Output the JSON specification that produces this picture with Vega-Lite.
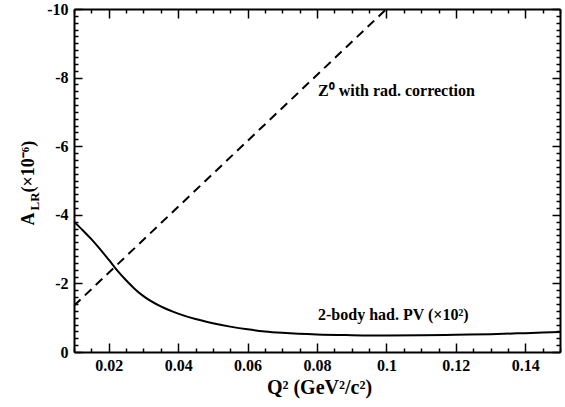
{
  "$schema": "https://vega.github.io/schema/vega-lite/v6.json",
  "width": 486,
  "height": 343,
  "autosize": "none",
  "padding": {"left": 74, "top": 9, "right": 5, "bottom": 55},
  "background": "white",
  "config": {
    "view": {"stroke": null},
    "font": "Liberation Serif",
    "axis": {
      "domainColor": "black",
      "domainWidth": 2,
      "tickColor": "black",
      "tickWidth": 1.5,
      "labelFont": "Liberation Serif",
      "labelFontSize": 16,
      "labelFontWeight": "bold",
      "labelColor": "black",
      "titleFont": "Liberation Serif",
      "titleFontWeight": "bold",
      "titleColor": "black",
      "grid": false,
      "labelFlush": false,
      "labelOverlap": false,
      "labelBound": false
    }
  },
  "datasets": {
    "curve": [
      {"q": 0.010, "a": -3.80},
      {"q": 0.0125, "a": -3.55},
      {"q": 0.015, "a": -3.29},
      {"q": 0.0175, "a": -3.00},
      {"q": 0.020, "a": -2.69},
      {"q": 0.0225, "a": -2.37},
      {"q": 0.025, "a": -2.09},
      {"q": 0.0275, "a": -1.84},
      {"q": 0.030, "a": -1.63},
      {"q": 0.035, "a": -1.33},
      {"q": 0.040, "a": -1.12},
      {"q": 0.045, "a": -0.96},
      {"q": 0.050, "a": -0.84},
      {"q": 0.055, "a": -0.74},
      {"q": 0.060, "a": -0.66},
      {"q": 0.065, "a": -0.60},
      {"q": 0.070, "a": -0.56},
      {"q": 0.080, "a": -0.51},
      {"q": 0.090, "a": -0.49},
      {"q": 0.100, "a": -0.48},
      {"q": 0.110, "a": -0.485},
      {"q": 0.120, "a": -0.50},
      {"q": 0.130, "a": -0.52},
      {"q": 0.140, "a": -0.55},
      {"q": 0.150, "a": -0.58}
    ],
    "zline": [
      {"q": 0.010, "a": -1.35},
      {"q": 0.100, "a": -10.0}
    ],
    "notes": [
      {"q": 0.0803, "a": -7.46, "label": "Z⁰ with rad. correction", "kind": "z"},
      {"q": 0.0803, "a": -0.93, "label": "2-body had. PV (×10²)", "kind": "pv"}
    ]
  },
  "layer": [
    {
      "data": {"name": "curve"},
      "mark": {"type": "line", "color": "black", "strokeWidth": 2, "interpolate": "monotone", "clip": true},
      "encoding": {
        "x": {
          "field": "q", "type": "quantitative",
          "scale": {"domain": [0.01, 0.15], "nice": false, "zero": false},
          "axis": {
            "orient": "bottom",
            "values": [0.01, 0.015, 0.02, 0.025, 0.03, 0.035, 0.04, 0.045, 0.05, 0.055, 0.06, 0.065, 0.07, 0.075, 0.08, 0.085, 0.09, 0.095, 0.1, 0.105, 0.11, 0.115, 0.12, 0.125, 0.13, 0.135, 0.14, 0.145, 0.15],
            "labelExpr": "abs(round(datum.value*1000) % 20) == 0 ? '' + datum.value : ''",
            "tickSize": {"condition": {"test": "abs(round(datum.value*1000) % 20) == 0", "value": -9}, "value": -4},
            "labelPadding": 14,
            "title": "Q² (GeV²/c²)",
            "titleFontSize": 20,
            "titleX": 245,
            "titleY": 41,
            "titleAlign": "center",
            "titleBaseline": "alphabetic"
          }
        },
        "y": {
          "field": "a", "type": "quantitative",
          "scale": {"domain": [-10, 0], "reverse": true, "nice": false, "zero": false},
          "axis": {
            "orient": "left",
            "values": [0, -0.2, -0.4, -0.6, -0.8, -1, -1.2, -1.4, -1.6, -1.8, -2, -2.2, -2.4, -2.6, -2.8, -3, -3.2, -3.4, -3.6, -3.8, -4, -4.2, -4.4, -4.6, -4.8, -5, -5.2, -5.4, -5.6, -5.8, -6, -6.2, -6.4, -6.6, -6.8, -7, -7.2, -7.4, -7.6, -7.8, -8, -8.2, -8.4, -8.6, -8.8, -9, -9.2, -9.4, -9.6, -9.8, -10],
            "labelExpr": "abs(datum.value % 2) < 0.001 ? '' + datum.value : ''",
            "tickSize": {"condition": {"test": "abs(datum.value % 2) < 0.001", "value": -8}, "value": -4},
            "labelPadding": 14,
            "title": "A",
            "titleFontSize": 18,
            "titleAngle": -90,
            "titleX": -41,
            "titleY": 216,
            "titleAlign": "left",
            "titleBaseline": "alphabetic"
          }
        }
      }
    },
    {
      "data": {"name": "zline"},
      "mark": {"type": "line", "color": "black", "strokeWidth": 2, "strokeDash": [9, 6], "clip": true},
      "encoding": {
        "x": {
          "field": "q", "type": "quantitative",
          "axis": {
            "orient": "top",
            "values": [0.01, 0.015, 0.02, 0.025, 0.03, 0.035, 0.04, 0.045, 0.05, 0.055, 0.06, 0.065, 0.07, 0.075, 0.08, 0.085, 0.09, 0.095, 0.1, 0.105, 0.11, 0.115, 0.12, 0.125, 0.13, 0.135, 0.14, 0.145, 0.15],
            "labels": false,
            "tickSize": {"condition": {"test": "abs(round(datum.value*1000) % 20) == 0", "value": -9}, "value": -4},
            "title": null
          }
        },
        "y": {
          "field": "a", "type": "quantitative",
          "axis": {
            "orient": "right",
            "values": [0, -0.2, -0.4, -0.6, -0.8, -1, -1.2, -1.4, -1.6, -1.8, -2, -2.2, -2.4, -2.6, -2.8, -3, -3.2, -3.4, -3.6, -3.8, -4, -4.2, -4.4, -4.6, -4.8, -5, -5.2, -5.4, -5.6, -5.8, -6, -6.2, -6.4, -6.6, -6.8, -7, -7.2, -7.4, -7.6, -7.8, -8, -8.2, -8.4, -8.6, -8.8, -9, -9.2, -9.4, -9.6, -9.8, -10],
            "labels": false,
            "tickSize": {"condition": {"test": "abs(datum.value % 2) < 0.001", "value": -8}, "value": -4},
            "title": null
          }
        }
      }
    },
    {
      "data": {"name": "notes"},
      "transform": [{"filter": "datum.kind == 'z'"}],
      "mark": {"type": "text", "align": "left", "baseline": "alphabetic", "font": "Liberation Serif", "fontWeight": "bold", "fontSize": 16, "color": "black"},
      "encoding": {
        "x": {"field": "q", "type": "quantitative", "axis": null},
        "y": {
          "field": "a", "type": "quantitative",
          "axis": {
            "orient": "left", "domain": false, "ticks": false, "labels": false,
            "title": "LR", "titleFontSize": 13, "titleAngle": -90,
            "titleX": -36, "titleY": 201, "titleAlign": "left", "titleBaseline": "alphabetic"
          }
        },
        "text": {"field": "label"}
      }
    },
    {
      "data": {"name": "notes"},
      "transform": [{"filter": "datum.kind == 'pv'"}],
      "mark": {"type": "text", "align": "left", "baseline": "alphabetic", "font": "Liberation Serif", "fontWeight": "bold", "fontSize": 16, "color": "black"},
      "encoding": {
        "x": {"field": "q", "type": "quantitative", "axis": null},
        "y": {
          "field": "a", "type": "quantitative",
          "axis": {
            "orient": "left", "domain": false, "ticks": false, "labels": false,
            "title": "(×10⁻⁶)", "titleFontSize": 18, "titleAngle": -90,
            "titleX": -41, "titleY": 183, "titleAlign": "left", "titleBaseline": "alphabetic"
          }
        },
        "text": {"field": "label"}
      }
    }
  ],
  "resolve": {"axis": {"x": "independent", "y": "independent"}}
}
